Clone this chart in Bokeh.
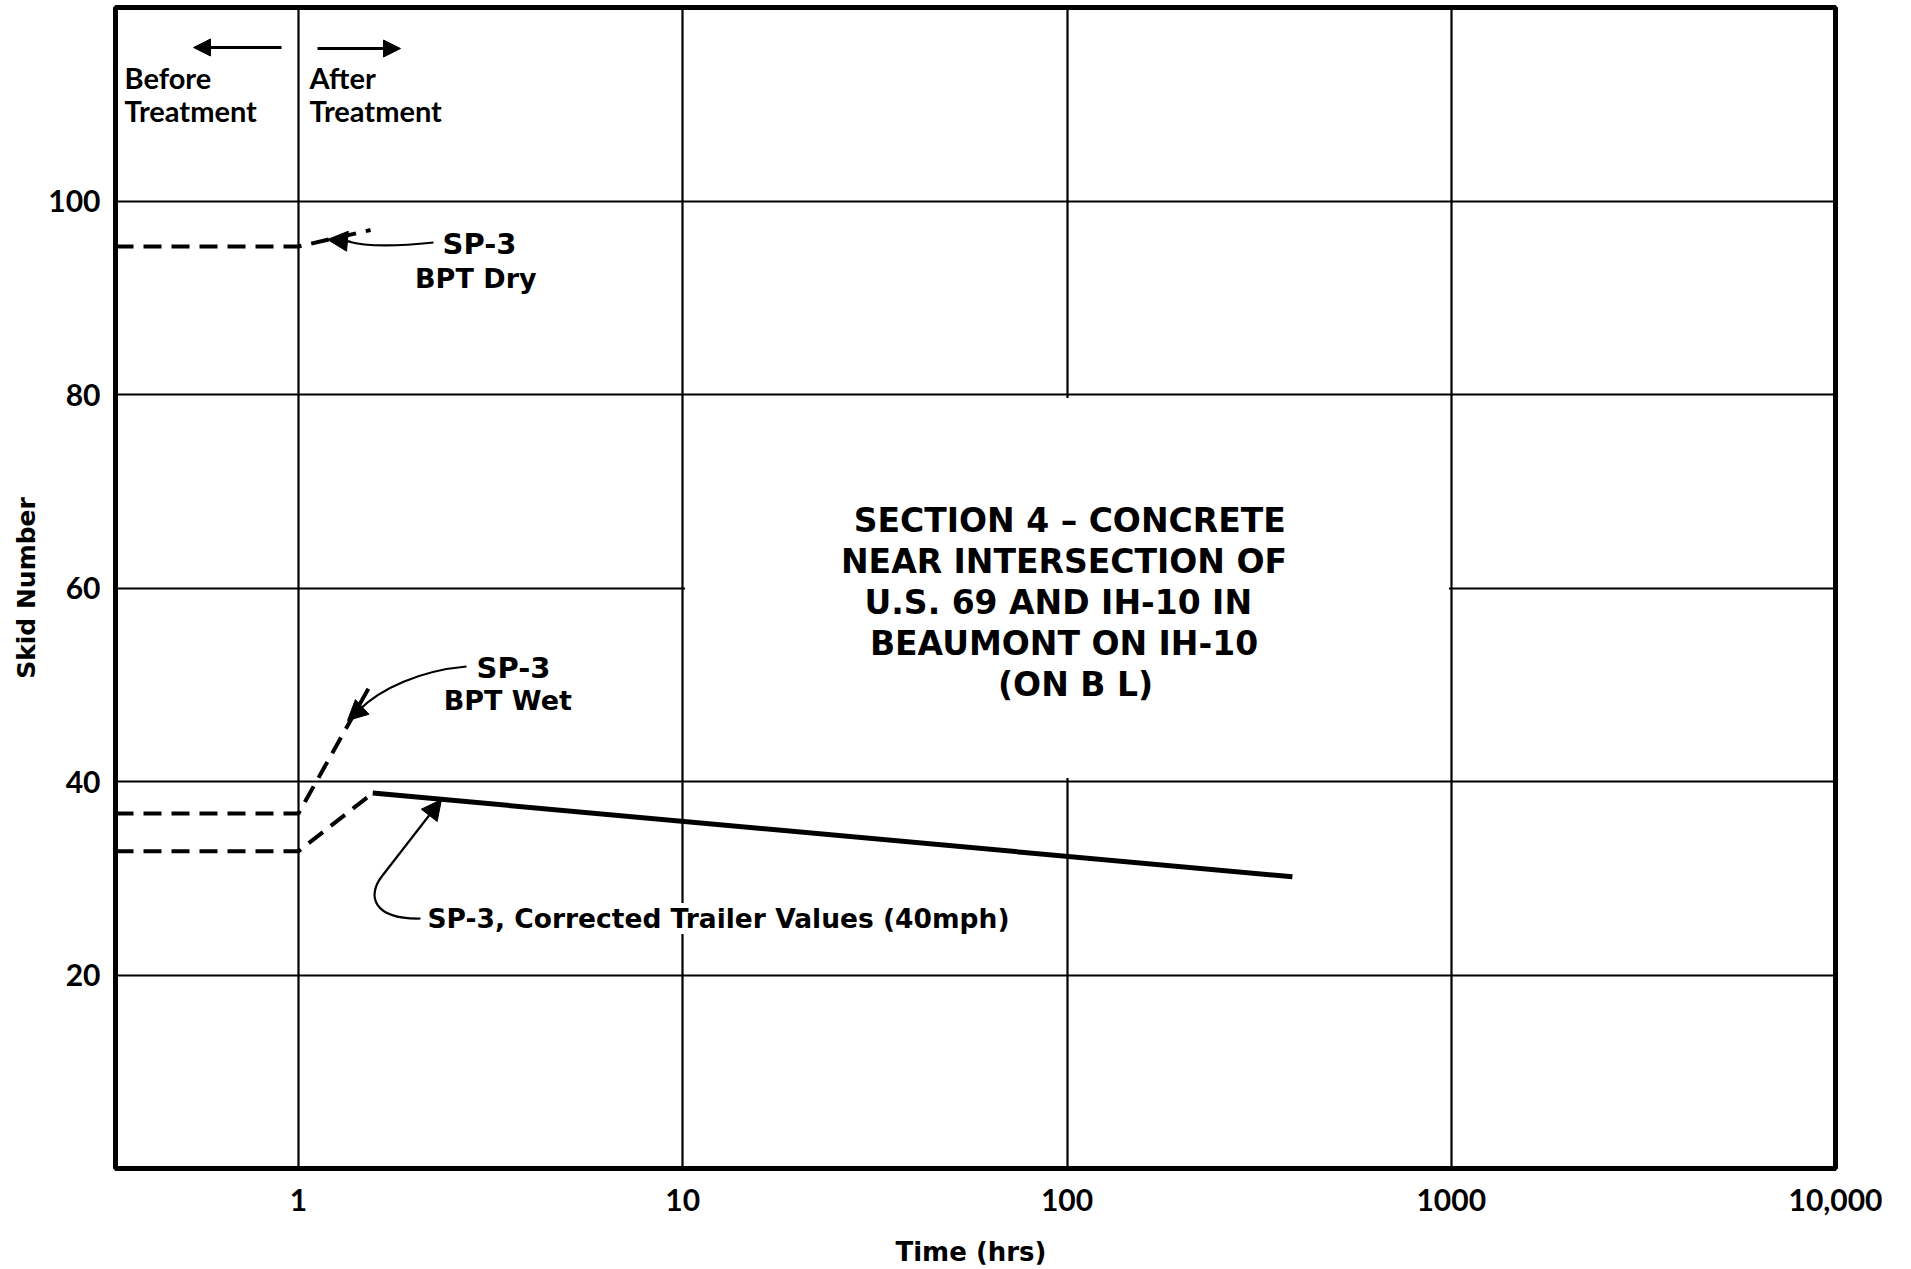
import numpy as np
from bokeh.plotting import figure
from bokeh.models import (Range1d, FixedTicker, CustomJSTickFormatter, Label, Arrow,
                          NormalHead, BoxAnnotation)
from bokeh.embed import file_html
from bokeh.resources import INLINE

# ---------------- data ----------------
dry_time = [0.334, 1.0, 1.54]
dry_skid = [95.3, 95.3, 97.0]

wet_time = [0.334, 1.0, 1.54]
wet_skid = [36.7, 36.7, 50.0]

trailer_pre_time = [0.334, 1.0, 1.56]
trailer_pre_skid = [32.8, 32.8, 38.8]

trailer_time = [1.56, 386.0]
trailer_skid = [38.8, 30.15]

x_ticks = [1, 10, 100, 1000, 10000]
x_tick_labels = ["1", "10", "100", "1000", "10,000"]
y_ticks = [20, 40, 60, 80, 100]
x_grid = [1, 10, 100, 1000]

block_lines = ["SECTION  4 \u2013 CONCRETE", "NEAR  INTERSECTION  OF",
               "U.S. 69  AND  IH-10  IN", "BEAUMONT  ON  IH-10", "(ON B L)"]

# ---------------- layout helpers ----------------
XMIN, XMAX, YMIN, YMAX = 0.334, 10000.0, 0.0, 120.0
FL, FR, FT, FB = 115, 1835, 7, 1168
TICK_FONT = "Lato"
FONT = "DejaVu Sans"


def X(px):
    lo, hi = np.log10(XMIN), np.log10(XMAX)
    return float(10 ** (lo + (px - FL) / (FR - FL) * (hi - lo)))


def Y(py):
    return float(YMIN + (FB - py) / (FB - FT) * (YMAX - YMIN))


p = figure(width=1911, height=1269, x_axis_type="log",
           x_range=Range1d(XMIN, XMAX), y_range=Range1d(YMIN, YMAX),
           output_backend="svg", toolbar_location=None,
           min_border_left=FL, min_border_right=1911 - FR,
           min_border_top=FT, min_border_bottom=1269 - FB,
           background_fill_color="white", border_fill_color="white")

p.outline_line_color = "black"
p.outline_line_width = 5

# grid
p.xgrid.ticker = FixedTicker(ticks=x_grid)
p.ygrid.ticker = FixedTicker(ticks=y_ticks)
for g in (p.xgrid, p.ygrid):
    g.grid_line_color = "black"
    g.grid_line_width = 2.2
    g.grid_line_alpha = 1.0
p.xgrid.minor_grid_line_color = None

# open area around the section note
p.add_layout(BoxAnnotation(left=10 ** 1.006, right=10 ** 2.994, bottom=40.35, top=79.65,
                           fill_color="white", fill_alpha=1.0, line_color=None,
                           level="underlay"))

# axes
p.xaxis.ticker = FixedTicker(ticks=x_ticks)
p.xaxis.formatter = CustomJSTickFormatter(
    args=dict(vals=x_ticks, labs=x_tick_labels),
    code="""
    for (let i = 0; i < vals.length; i++) {
        if (Math.abs(Math.log10(tick) - Math.log10(vals[i])) < 1e-6) return labs[i];
    }
    return '';
    """)
p.yaxis.ticker = FixedTicker(ticks=y_ticks)
for ax in (p.xaxis[0], p.yaxis[0]):
    ax.axis_line_color = None
    ax.major_tick_line_color = None
    ax.minor_tick_line_color = None
    ax.major_tick_out = 0
    ax.major_tick_in = 0
    ax.minor_tick_out = 0
    ax.minor_tick_in = 0
    ax.major_label_text_font = TICK_FONT
    ax.major_label_text_font_style = "bold"
    ax.major_label_text_font_size = "30px"
    ax.major_label_text_color = "black"
    ax.axis_label_text_font = FONT
    ax.axis_label_text_font_style = "bold"
    ax.axis_label_text_color = "black"
p.yaxis.axis_label = "Skid Number"
p.yaxis.axis_label_text_font_size = "25px"
p.xaxis.axis_label = "Time  (hrs)"
p.xaxis.axis_label_text_font_size = "26px"
p.xaxis.major_label_standoff = 20
p.xaxis.axis_label_standoff = 23
p.yaxis.major_label_standoff = 15
p.yaxis.axis_label_standoff = 4
p.yaxis.major_label_orientation = "horizontal"

# ---------------- data lines ----------------
p.line(dry_time, dry_skid, line_color="black", line_width=4, line_dash="18 10")
p.line(wet_time, wet_skid, line_color="black", line_width=4, line_dash="18 10")
p.line(trailer_pre_time, trailer_pre_skid, line_color="black", line_width=4, line_dash="18 10")
p.line(trailer_time, trailer_skid, line_color="black", line_width=5)

# ---------------- annotations ----------------
def txt(s, px, py, size=27, align="left", font=FONT, bg=None):
    lab = Label(x=X(px), y=Y(py), text=s, text_font=font, text_font_size=f"{size}px",
                text_font_style="bold", text_color="black",
                text_align=align, text_baseline="middle")
    if bg:
        lab.background_fill_color = bg
        lab.background_fill_alpha = 1.0
    p.add_layout(lab)


txt("Before", 124, 77, size=29, font=TICK_FONT)
txt("Treatment", 124, 110, size=29, font=TICK_FONT)
txt("After", 309, 77, size=29, font=TICK_FONT)
txt("Treatment", 309, 110, size=29, font=TICK_FONT)

p.add_layout(Arrow(x_start=X(281), y_start=Y(47), x_end=X(193), y_end=Y(47),
                   line_width=3, line_color="black",
                   end=NormalHead(size=17, fill_color="black", line_color="black")))
p.add_layout(Arrow(x_start=X(317), y_start=Y(48), x_end=X(400), y_end=Y(48),
                   line_width=3, line_color="black",
                   end=NormalHead(size=17, fill_color="black", line_color="black")))

txt("SP-3", 479, 243, size=29, align="center")
txt("BPT  Dry", 480, 278, size=27, align="center")
txt("SP-3", 513, 667, size=29, align="center")
txt("BPT  Wet", 512, 700, size=27, align="center")
txt("SP-3, Corrected Trailer Values (40mph)", 427, 918, size=26.5, bg="white")

for i, s in enumerate(block_lines):
    txt(s, 1075, 520 + i * 41, size=33, align="center")

# leaders
def bez(a, c0, c1, b):
    p.bezier(x0=[X(a[0])], y0=[Y(a[1])], x1=[X(b[0])], y1=[Y(b[1])],
             cx0=[X(c0[0])], cy0=[Y(c0[1])], cx1=[X(c1[0])], cy1=[Y(c1[1])],
             line_color="black", line_width=2.2)


def head(a, b, size=20):
    p.add_layout(Arrow(x_start=X(a[0]), y_start=Y(a[1]), x_end=X(b[0]), y_end=Y(b[1]),
                       line_width=2.2, line_color="black",
                       end=NormalHead(size=size, fill_color="black", line_color="black")))


bez((433, 242), (395, 246), (365, 246), (348, 241))
head((350, 241), (327, 239))

bez((466, 666), (420, 670), (380, 688), (358, 710))
head((360, 708), (347, 720))

bez((420, 918), (372, 919), (366, 895), (382, 875))
head((382, 875), (441, 799))

open("out.html", "w").write(file_html(p, INLINE))
